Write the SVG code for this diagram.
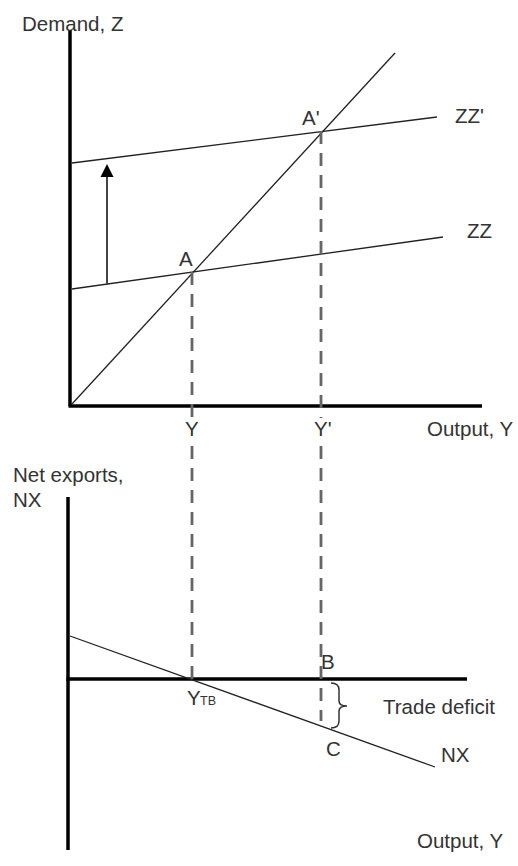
<svg xmlns="http://www.w3.org/2000/svg" width="518" height="866" viewBox="0 0 518 866">
<style>
.axis{stroke:#000;stroke-width:3.5;fill:none;stroke-linecap:butt}
.curve{stroke:#222;stroke-width:1.3;fill:none}
.drop{stroke:#666;stroke-width:2.8;fill:none;stroke-dasharray:13,9}
.lbl{font-family:"Liberation Sans",Arial,sans-serif;font-size:20.5px;fill:#333}
.sub{font-family:"Liberation Sans",Arial,sans-serif;font-size:12.5px;fill:#333}
</style>
<rect width="518" height="866" fill="#fff"/>

<g id="top-axes">
<line class="axis" x1="70" y1="30" x2="70" y2="406"/>
<line class="axis" x1="68.5" y1="406" x2="482" y2="406"/>
<text class="lbl" x="22" y="31">Demand, Z</text>
<text class="lbl" x="427" y="436">Output, Y</text>
</g>

<g id="line45">
<line class="curve" x1="72" y1="404" x2="395" y2="53"/>
</g>

<g id="ZZprime">
<line class="curve" x1="72" y1="163" x2="437" y2="117"/>
<text class="lbl" x="455" y="123">ZZ'</text>
</g>

<g id="ZZ">
<line class="curve" x1="72" y1="289" x2="443" y2="237"/>
<text class="lbl" x="467" y="238">ZZ</text>
</g>

<g id="pointA">
<text class="lbl" x="179" y="266">A</text>
</g>

<g id="pointAprime">
<text class="lbl" x="302" y="125">A'</text>
</g>

<g id="tickY">
<text class="lbl" x="185" y="436">Y</text>
</g>

<g id="tickYprime">
<text class="lbl" x="314" y="436">Y'</text>
</g>

<g id="bottom-axes">
<line class="axis" x1="68" y1="497" x2="68" y2="850"/>
<line class="axis" x1="66.5" y1="679" x2="467" y2="679"/>
<text class="lbl" x="13" y="482">Net exports,</text>
<text class="lbl" x="13" y="507">NX</text>
<text class="lbl" x="417" y="848">Output, Y</text>
</g>

<g id="NX">
<line class="curve" x1="70" y1="636" x2="435" y2="767"/>
<text class="lbl" x="441" y="762">NX</text>
</g>

<g id="YTB">
<text class="lbl" x="187" y="705">Y</text>
<text class="sub" x="200" y="705">TB</text>
</g>

<g id="pointB">
<text class="lbl" x="321" y="669">B</text>
</g>

<g id="pointC">
<text class="lbl" x="326" y="756">C</text>
</g>

<g id="trade-deficit">
<path d="M331,683 Q339,683 339,690 L339,701 Q339,706 347,706 Q339,706 339,711 L339,721 Q339,728 331,728" fill="none" stroke="#333" stroke-width="1.5"/>
<text class="lbl" x="383" y="714">Trade deficit</text>
</g>

<g id="connectors">
<line class="drop" x1="192" y1="272" x2="192" y2="418"/>
<line class="drop" x1="192" y1="446" x2="192" y2="679"/>
<line class="drop" x1="321" y1="131" x2="321" y2="418"/>
<line class="drop" x1="321" y1="446" x2="321" y2="721"/>
<line x1="107" y1="285" x2="107" y2="176" stroke="#444" stroke-width="2"/>
<polygon points="107,164 113.5,177 100.5,177" fill="#000"/>
</g>
</svg>
